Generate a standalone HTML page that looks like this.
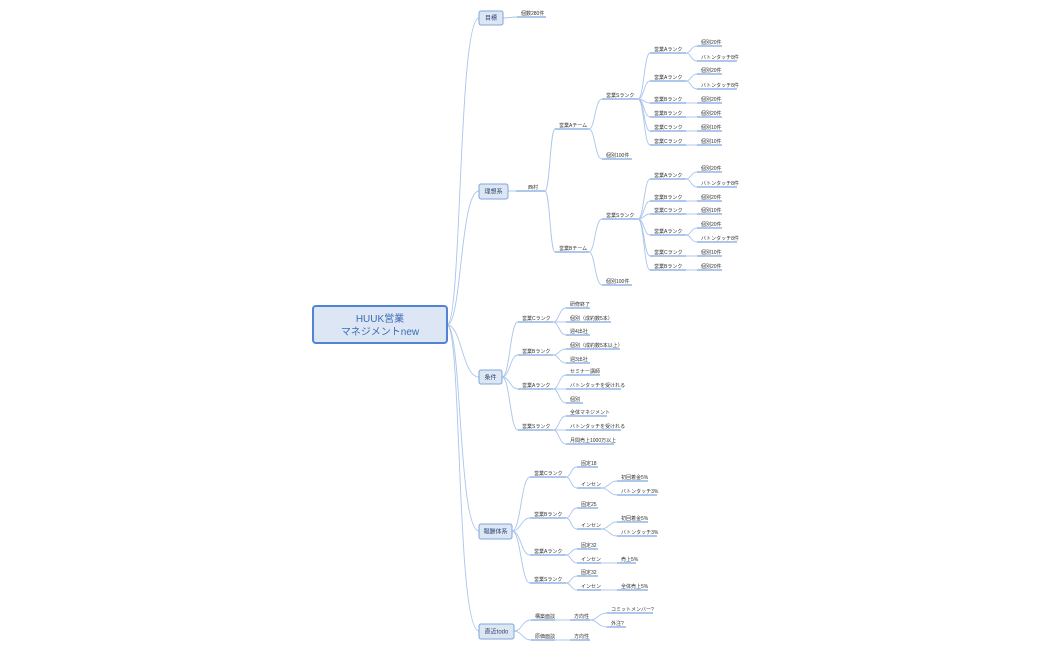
<!DOCTYPE html>
<html><head><meta charset="utf-8"><style>
html,body{margin:0;padding:0;background:#fff;}
svg{display:block;}
text{font-family:"Liberation Sans","Noto Sans CJK JP",sans-serif;font-size:5px;fill:#333;}
.c{fill:none;stroke:#a9c5ec;stroke-width:0.9;}
.u{stroke:#5d8fd8;stroke-width:1;}
.t{fill:#dde7f4;stroke:#7ea4dd;stroke-width:1;}
.tt{font-size:6px;fill:#2a4470;}
</style></head><body>
<svg width="1050" height="650" viewBox="0 0 1050 650" xmlns="http://www.w3.org/2000/svg">
<!-- root connectors -->
<g class="c">
<path d="M447 325 C462 325 458 18 479 18"/>
<path d="M447 325 C462 325 460 191 479 191"/>
<path d="M447 325 C462 325 462 377 479 377"/>
<path d="M447 325 C462 325 458 531 479 531"/>
<path d="M447 325 C462 325 456 631 479 631"/>
<path d="M503 18 C510 18 510 17 517 17"/>
<path d="M508 191 L516 191"/>
<path d="M545 191 C550 191 550 129 555 129"/>
<path d="M545 191 C550 191 550 252 555 252"/>
<path d="M589 129 C595 129 595 99 602 99"/>
<path d="M589 129 C595 129 595 159 602 159"/>
<path d="M638 99 C644 99 644 53 650 53"/><path d="M638 99 C644 99 644 81 650 81"/><path d="M638 99 C644 99 644 103 650 103"/><path d="M638 99 C644 99 644 117 650 117"/><path d="M638 99 C644 99 644 131 650 131"/><path d="M638 99 C644 99 644 145 650 145"/>
<path d="M686 53 C691 53 691 46 697 46"/><path d="M686 53 C691 53 691 61 697 61"/>
<path d="M686 81 C691 81 691 74 697 74"/><path d="M686 81 C691 81 691 89 697 89"/>
<path d="M686 103 L697 103"/><path d="M686 117 L697 117"/><path d="M686 131 L697 131"/><path d="M686 145 L697 145"/>
<path d="M589 252 C595 252 595 219 602 219"/>
<path d="M589 252 C595 252 595 285 602 285"/>
<path d="M638 219 C644 219 644 179 650 179"/><path d="M638 219 C644 219 644 201 650 201"/><path d="M638 219 C644 219 644 214 650 214"/><path d="M638 219 C644 219 644 235 650 235"/><path d="M638 219 C644 219 644 256 650 256"/><path d="M638 219 C644 219 644 270 650 270"/>
<path d="M686 179 C691 179 691 172 697 172"/><path d="M686 179 C691 179 691 187 697 187"/>
<path d="M686 201 L697 201"/><path d="M686 214 L697 214"/>
<path d="M686 235 C691 235 691 228 697 228"/><path d="M686 235 C691 235 691 242 697 242"/>
<path d="M686 256 L697 256"/><path d="M686 270 L697 270"/>
<path d="M502 377 C510 377 510 322 518 322"/><path d="M502 377 C510 377 510 355 518 355"/><path d="M502 377 C510 377 510 389 518 389"/><path d="M502 377 C510 377 510 430 518 430"/>
<path d="M553 322 C559 322 559 308 566 308"/><path d="M553 322 L566 322"/><path d="M553 322 C559 322 559 335 566 335"/>
<path d="M553 355 C559 355 559 349 566 349"/><path d="M553 355 C559 355 559 363 566 363"/>
<path d="M553 389 C559 389 559 375 566 375"/><path d="M553 389 L566 389"/><path d="M553 389 C559 389 559 403 566 403"/>
<path d="M553 430 C559 430 559 416 566 416"/><path d="M553 430 L566 430"/><path d="M553 430 C559 430 559 444 566 444"/>
<path d="M512 531 C521 531 521 477 530 477"/><path d="M512 531 C521 531 521 518 530 518"/><path d="M512 531 C521 531 521 555 530 555"/><path d="M512 531 C521 531 521 583 530 583"/>
<path d="M566 477 C571 477 571 467 577 467"/><path d="M566 477 C571 477 571 488 577 488"/>
<path d="M566 518 C571 518 571 508 577 508"/><path d="M566 518 C571 518 571 529 577 529"/>
<path d="M566 555 C571 555 571 549 577 549"/><path d="M566 555 C571 555 571 563 577 563"/>
<path d="M566 583 C571 583 571 576 577 576"/><path d="M566 583 C571 583 571 590 577 590"/>
<path d="M601 488 C609 488 609 481 617 481"/><path d="M601 488 C609 488 609 495 617 495"/>
<path d="M601 529 C609 529 609 522 617 522"/><path d="M601 529 C609 529 609 536 617 536"/>
<path d="M601 563 L617 563"/><path d="M601 590 L617 590"/>
<path d="M514 631 C522 631 522 620 531 620"/><path d="M514 631 C522 631 522 640 531 640"/>
<path d="M555 620 L570 620"/><path d="M555 640 L570 640"/>
<path d="M590 620 C598 620 598 613 607 613"/><path d="M590 620 C598 620 598 627 607 627"/>
</g>
<!-- underlines -->
<g class="u">
<line x1="517" y1="17" x2="546" y2="17"/>
<line x1="516" y1="191" x2="545" y2="191"/>
<line x1="555" y1="129" x2="589" y2="129"/><line x1="555" y1="252" x2="589" y2="252"/>
<line x1="602" y1="99" x2="638" y2="99"/><line x1="602" y1="159" x2="632" y2="159"/>
<line x1="650" y1="53" x2="686" y2="53"/><line x1="650" y1="81" x2="686" y2="81"/><line x1="650" y1="103" x2="686" y2="103"/><line x1="650" y1="117" x2="686" y2="117"/><line x1="650" y1="131" x2="686" y2="131"/><line x1="650" y1="145" x2="686" y2="145"/>
<line x1="697" y1="46" x2="722" y2="46"/><line x1="697" y1="61" x2="737" y2="61"/><line x1="697" y1="74" x2="722" y2="74"/><line x1="697" y1="89" x2="737" y2="89"/><line x1="697" y1="103" x2="722" y2="103"/><line x1="697" y1="117" x2="722" y2="117"/><line x1="697" y1="131" x2="722" y2="131"/><line x1="697" y1="145" x2="722" y2="145"/>
<line x1="602" y1="219" x2="638" y2="219"/><line x1="602" y1="285" x2="632" y2="285"/>
<line x1="650" y1="179" x2="686" y2="179"/><line x1="650" y1="201" x2="686" y2="201"/><line x1="650" y1="214" x2="686" y2="214"/><line x1="650" y1="235" x2="686" y2="235"/><line x1="650" y1="256" x2="686" y2="256"/><line x1="650" y1="270" x2="686" y2="270"/>
<line x1="697" y1="172" x2="722" y2="172"/><line x1="697" y1="187" x2="737" y2="187"/><line x1="697" y1="201" x2="722" y2="201"/><line x1="697" y1="214" x2="722" y2="214"/><line x1="697" y1="228" x2="722" y2="228"/><line x1="697" y1="242" x2="737" y2="242"/><line x1="697" y1="256" x2="722" y2="256"/><line x1="697" y1="270" x2="722" y2="270"/>
<line x1="518" y1="322" x2="553" y2="322"/><line x1="518" y1="355" x2="553" y2="355"/><line x1="518" y1="389" x2="553" y2="389"/><line x1="518" y1="430" x2="553" y2="430"/>
<line x1="566" y1="308" x2="590" y2="308"/><line x1="566" y1="322" x2="611" y2="322"/><line x1="566" y1="335" x2="590" y2="335"/>
<line x1="566" y1="349" x2="620" y2="349"/><line x1="566" y1="363" x2="590" y2="363"/>
<line x1="566" y1="375" x2="600" y2="375"/><line x1="566" y1="389" x2="621" y2="389"/><line x1="566" y1="403" x2="583" y2="403"/>
<line x1="566" y1="416" x2="607" y2="416"/><line x1="566" y1="430" x2="621" y2="430"/><line x1="566" y1="444" x2="614" y2="444"/>
<line x1="530" y1="477" x2="566" y2="477"/><line x1="530" y1="518" x2="566" y2="518"/><line x1="530" y1="555" x2="566" y2="555"/><line x1="530" y1="583" x2="566" y2="583"/>
<line x1="577" y1="467" x2="598" y2="467"/><line x1="577" y1="488" x2="601" y2="488"/><line x1="577" y1="508" x2="598" y2="508"/><line x1="577" y1="529" x2="601" y2="529"/><line x1="577" y1="549" x2="598" y2="549"/><line x1="577" y1="563" x2="601" y2="563"/><line x1="577" y1="576" x2="598" y2="576"/><line x1="577" y1="590" x2="601" y2="590"/>
<line x1="617" y1="481" x2="648" y2="481"/><line x1="617" y1="495" x2="657" y2="495"/><line x1="617" y1="522" x2="648" y2="522"/><line x1="617" y1="536" x2="657" y2="536"/><line x1="617" y1="563" x2="636" y2="563"/><line x1="617" y1="590" x2="648" y2="590"/>
<line x1="531" y1="620" x2="555" y2="620"/><line x1="531" y1="640" x2="555" y2="640"/>
<line x1="570" y1="620" x2="590" y2="620"/><line x1="570" y1="640" x2="590" y2="640"/>
<line x1="607" y1="613" x2="653" y2="613"/><line x1="607" y1="627" x2="626" y2="627"/>
</g>
<!-- root -->
<rect x="313" y="306" width="134" height="37" rx="3" fill="#dce6f4" stroke="#4f84d4" stroke-width="2"/>
<text x="380" y="322" text-anchor="middle" style="font-size:10px;fill:#3b6db5">HUUK営業</text>
<text x="380" y="335" text-anchor="middle" style="font-size:10px;fill:#3b6db5">マネジメントnew</text>
<!-- topics -->
<rect class="t" x="479" y="11" width="24" height="14" rx="2"/><text class="tt" x="491" y="20" text-anchor="middle">目標</text>
<rect class="t" x="479" y="184" width="29" height="15" rx="2"/><text class="tt" x="493.5" y="193.5" text-anchor="middle">理想系</text>
<rect class="t" x="479" y="370" width="23" height="14" rx="2"/><text class="tt" x="490.5" y="379.5" text-anchor="middle">条件</text>
<rect class="t" x="479" y="524" width="33" height="15" rx="2"/><text class="tt" x="495.5" y="533.5" text-anchor="middle">報酬体系</text>
<rect class="t" x="479" y="624" width="35" height="15" rx="2"/><text class="tt" x="496.5" y="633.5" text-anchor="middle">直近todo</text>
<!-- labels -->
<g>
<text x="521" y="15">個数280件</text>
<text x="528" y="189">西村</text>
<text x="559" y="127">営業Aチーム</text><text x="559" y="250">営業Bチーム</text>
<text x="606" y="97">営業Sランク</text><text x="606" y="157">個別100件</text>
<text x="654" y="51">営業Aランク</text><text x="654" y="79">営業Aランク</text><text x="654" y="101">営業Bランク</text><text x="654" y="115">営業Bランク</text><text x="654" y="129">営業Cランク</text><text x="654" y="143">営業Cランク</text>
<text x="701" y="44">個別20件</text><text x="701" y="59">バトンタッチ8件</text><text x="701" y="72">個別20件</text><text x="701" y="87">バトンタッチ8件</text><text x="701" y="101">個別20件</text><text x="701" y="115">個別20件</text><text x="701" y="129">個別10件</text><text x="701" y="143">個別10件</text>
<text x="606" y="217">営業Sランク</text><text x="606" y="283">個別100件</text>
<text x="654" y="177">営業Aランク</text><text x="654" y="199">営業Bランク</text><text x="654" y="212">営業Cランク</text><text x="654" y="233">営業Aランク</text><text x="654" y="254">営業Cランク</text><text x="654" y="268">営業Bランク</text>
<text x="701" y="170">個別20件</text><text x="701" y="185">バトンタッチ8件</text><text x="701" y="199">個別20件</text><text x="701" y="212">個別10件</text><text x="701" y="226">個別20件</text><text x="701" y="240">バトンタッチ8件</text><text x="701" y="254">個別10件</text><text x="701" y="268">個別20件</text>
<text x="522" y="320">営業Cランク</text><text x="522" y="353">営業Bランク</text><text x="522" y="387">営業Aランク</text><text x="522" y="428">営業Sランク</text>
<text x="570" y="306">研修終了</text><text x="570" y="320">個別（成約数5本）</text><text x="570" y="333">週4出社</text>
<text x="570" y="347">個別（成約数5本以上）</text><text x="570" y="361">週3出社</text>
<text x="570" y="373">セミナー講師</text><text x="570" y="387">バトンタッチを受けれる</text><text x="570" y="401">個別</text>
<text x="570" y="414">全体マネジメント</text><text x="570" y="428">バトンタッチを受けれる</text><text x="570" y="442">月間売上1000万以上</text>
<text x="534" y="475">営業Cランク</text><text x="534" y="516">営業Bランク</text><text x="534" y="553">営業Aランク</text><text x="534" y="581">営業Sランク</text>
<text x="581" y="465">固定18</text><text x="581" y="486">インセン</text><text x="581" y="506">固定25</text><text x="581" y="527">インセン</text><text x="581" y="547">固定32</text><text x="581" y="561">インセン</text><text x="581" y="574">固定32</text><text x="581" y="588">インセン</text>
<text x="621" y="479">初回着金5%</text><text x="621" y="493">バトンタッチ3%</text><text x="621" y="520">初回着金5%</text><text x="621" y="534">バトンタッチ3%</text><text x="621" y="561">売上5%</text><text x="621" y="588">全体売上5%</text>
<text x="535" y="618">構築面談</text><text x="535" y="638">原価面談</text>
<text x="574" y="618">方向性</text><text x="574" y="638">方向性</text>
<text x="611" y="611">コミットメンバー?</text><text x="611" y="625">外注?</text>
</g>
</svg>
</body></html>
